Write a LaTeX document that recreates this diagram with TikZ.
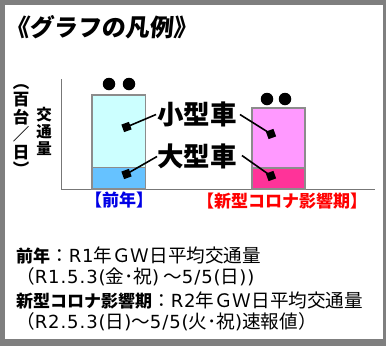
\documentclass[tikz,border=0pt]{standalone}
\usepackage{fontspec}
\setmainfont{Noto Sans CJK JP}
\newfontfamily\lat[LetterSpace=5,Scale=0.97]{DejaVu Sans}
\definecolor{frameg}{HTML}{7F7F7F}
\definecolor{barg}{HTML}{8C8C8C}
\definecolor{cyanl}{HTML}{CCFFFF}
\definecolor{blue1}{HTML}{66C2FF}
\definecolor{pinkl}{HTML}{FF99FF}
\definecolor{pinkd}{HTML}{FF3399}
\definecolor{blabel}{HTML}{0000E6}
\tikzset{
  bar/.style={draw=barg,line width=1.6pt},
  axisline/.style={draw=barg!85!black,line width=1.2pt},
  dotm/.style={circle,fill=black,minimum size=12.5pt,inner sep=0pt},
  sq/.style={rectangle,fill=black,minimum size=8pt,inner sep=0pt,rotate=20},
  lead/.style={draw=black,line width=1.6pt},
  big/.style={font=\fontsize{26.5}{27}\selectfont\bfseries,inner sep=0pt},
  body/.style={anchor=west,inner sep=0pt,font=\fontsize{18.6}{19}\selectfont},
  stack/.style={align=center,inner sep=0pt},
}
\newcommand{\bb}[1]{{\fontsize{17}{18}\selectfont\bfseries #1}}
\begin{document}
\begin{tikzpicture}[x=1pt,y=-1pt]
\useasboundingbox (0,0) rectangle (386,346);
\fill[frameg] (0,0) rectangle (386,346);
\fill[white] (5,5) rectangle (383,339);
\node[inner sep=0pt,anchor=west,xslant=0.1,font=\fontsize{24}{25}\selectfont\bfseries] (title) at (6,27) {《グラフの凡例》};
% axes
\coordinate (ax0) at (61.5,79);
\coordinate (ax1) at (61.5,189.5);
\coordinate (ax2) at (375,189.5);
\draw[axisline] (ax0) -- (ax1) -- (ax2);
% bars
\fill[cyanl] (92,95) rectangle (145.5,167.5);
\fill[blue1] (92,167.5) rectangle (145.5,189);
\draw[bar] (92,95) rectangle (145.5,189);
\draw[bar] (92,167.5) -- (145.5,167.5);
\fill[pinkl] (252,108) rectangle (305,168);
\fill[pinkd] (252,168) rectangle (305,189);
\draw[bar] (252,108) rectangle (305,189);
\draw[bar] (252,168) -- (305,168);
% dots
\node[dotm] (d1) at (109,84) {};
\node[dotm] (d2) at (129,84) {};
\node[dotm] (d3) at (267,99) {};
\node[dotm] (d4) at (285,99) {};
% labels
\node[big] (small) at (197,114.5) {小型車};
\node[big] (large) at (197,156.5) {大型車};
\node[sq] (s1) at (126.5,127) {};
\node[sq] (s2) at (126.5,174) {};
\node[sq] (s3) at (271,134) {};
\node[sq] (s4) at (271,176) {};
\draw[lead] (small.west) ++(-1,0) -- (s1.center);
\draw[lead] (large.west) ++(0,0) -- (s2.center);
\draw[lead] (small.east) ++(3,0) -- (s3.center);
\draw[lead] (large.east) ++(5,-1) -- (s4.center);
% axis title
\node[stack,font=\fontsize{15.5}{17}\bfseries\selectfont] (yl) at (44,131) {交\\通\\量};
\node[stack,font=\fontsize{16.5}{17.5}\bfseries\selectfont] (yu) at (21,130) {︵\\百\\台\\／\\日\\︶};
% category labels
\node[inner sep=0pt,text=blabel,font=\fontsize{17}{18}\bfseries\selectfont] (c1) at (119,200.5) {【前年】};
\node[inner sep=0pt,text=red,font=\fontsize{17}{18}\bfseries\selectfont] (c2) at (282,201) {【新型コロナ影響期】};
% body
\node[body] (l1) at (16,255) {\bb{前年}：{\lat R1}年ＧＷ日平均交通量};
\node[body] (l2) at (16,277) {（{\lat R1.5.3(}金･祝{\lat )} ～{\lat 5/5(}日{\lat ))}};
\node[body] (l3) at (16,300) {\bb{新型コロナ影響期}：{\lat R2}年ＧＷ日平均交通量};
\node[body] (l4) at (16,322) {（{\lat R2.5.3(}日{\lat )}～{\lat 5/5(}火･祝{\lat )}速報値）};
\end{tikzpicture}
\end{document}
